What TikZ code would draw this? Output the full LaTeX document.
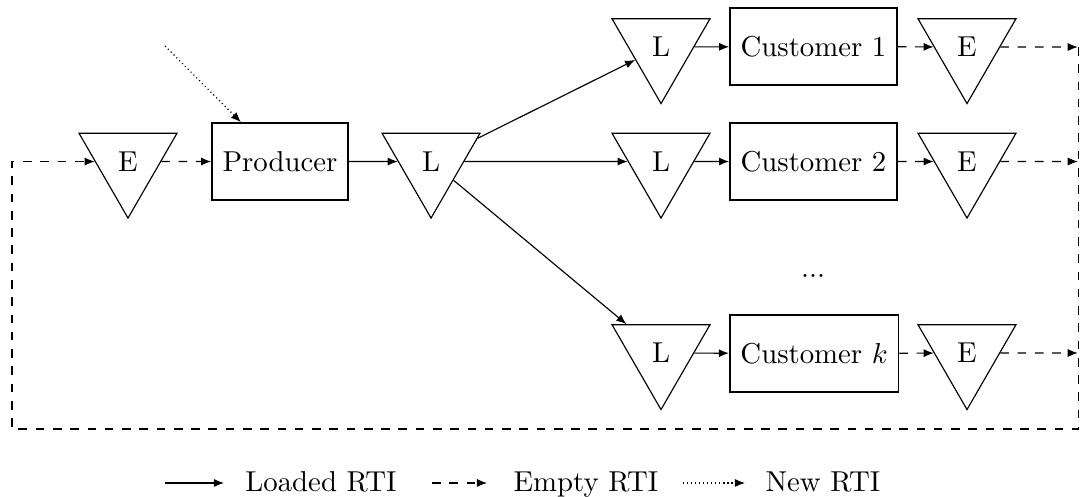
\documentclass[tikz,border=0pt]{standalone}
\usepackage{amsmath,amssymb}
\usepackage{xcolor}
\usetikzlibrary{positioning,calc,shapes.geometric,arrows.meta}

\begin{document}
\begin{tikzpicture}[
		>={Latex[length=3.5pt,width=2.8pt]},
		tri/.style={draw, regular polygon, regular polygon sides=3, shape border rotate=180, minimum size=39.3pt, inner sep=0pt},
		site/.style={draw, semithick, minimum height=0.94cm, inner sep=2pt},
		loadedrti/.style={->},
		emptyrti/.style={->, dashed},
		newrti/.style={->, densely dotted}
	]
		\useasboundingbox (0,0) rectangle (13.187,-6.068);
		% producer side
		\node[tri] (e0) at (1.563,-1.972) {E};
		\node[site, minimum width=1.66cm] (prod) at (3.419,-1.972) {Producer};
		\node[tri] (l0) at (5.263,-1.972) {L};
		\coordinate (newsrc) at (2.015,-0.562);
		% customers
		\node[tri] (l1) at (8.071,-0.574) {L};
		\node[site, minimum width=2.04cm] (c1) at (9.933,-0.568) {Customer 1};
		\node[tri] (e1) at (11.807,-0.574) {E};
		\node[tri] (l2) at (8.071,-1.972) {L};
		\node[site, minimum width=2.04cm] (c2) at (9.933,-1.972) {Customer 2};
		\node[tri] (e2) at (11.807,-1.972) {E};
		\node (dots) at (9.927,-3.37) {...};
		\node[tri] (lk) at (8.071,-4.31) {L};
		\node[site, minimum width=2.06cm] (ck) at (9.940,-4.316) {Customer $k$};
		\node[tri] (ek) at (11.807,-4.31) {E};
		\coordinate (out1) at (13.16,-0.574);
		\coordinate (out2) at (13.16,-1.972);
		\coordinate (outk) at (13.16,-4.31);
		\coordinate (loopl) at (0.147,-5.238);
		% flows
		\draw[newrti] (newsrc) -- (prod);
		\draw[emptyrti] (e0) -- (prod);
		\draw[loadedrti] (prod) -- (l0);
		\draw[loadedrti] (l0) -- (l1);
		\draw[loadedrti] (l0) -- (l2);
		\draw[loadedrti] (l0) -- (lk);
		\draw[loadedrti] (l1) -- (c1);
		\draw[loadedrti] (l2) -- (c2);
		\draw[loadedrti] (lk) -- (ck);
		\draw[emptyrti] (c1) -- (e1);
		\draw[emptyrti] (c2) -- (e2);
		\draw[emptyrti] (ck) -- (ek);
		\draw[emptyrti] (e1) -- (out1);
		\draw[emptyrti] (e2) -- (out2);
		\draw[emptyrti] (ek) -- (outk);
		\draw[emptyrti] (13.17,-0.574) |- (loopl) |- (e0);
		% legend
		\coordinate (lga) at (2.015,-5.897);
		\coordinate (lgb) at (2.735,-5.897);
		\coordinate (lgc) at (5.275,-5.897);
		\coordinate (lgd) at (5.946,-5.897);
		\coordinate (lge) at (8.34,-5.897);
		\coordinate (lgf) at (9.096,-5.897);
		\draw[loadedrti] (lga) -- (lgb);
		\draw[emptyrti] (lgc) -- (lgd);
		\draw[newrti] (lge) -- (lgf);
		\node[anchor=base west, inner sep=0pt] (lgloaded) at (2.99,-6.007) {Loaded RTI};
		\node[anchor=base west, inner sep=0pt] (lgempty) at (6.264,-6.007) {Empty RTI};
		\node[anchor=base west, inner sep=0pt] (lgnew) at (9.341,-6.007) {New RTI};
	\end{tikzpicture}
\end{document}
